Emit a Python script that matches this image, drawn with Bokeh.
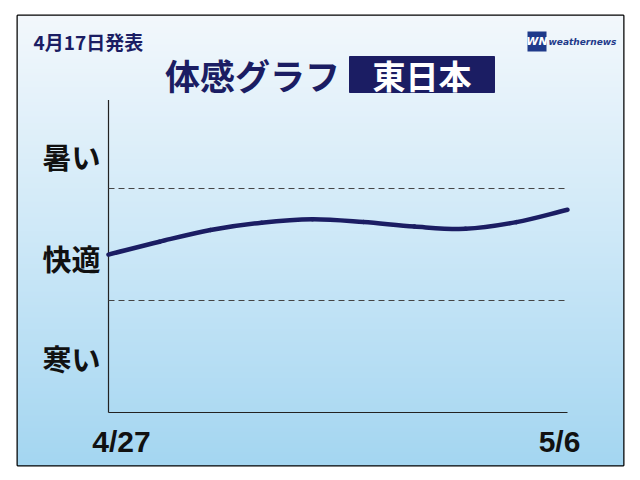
import numpy as np
from bokeh.plotting import figure
from bokeh.models import Range1d
from bokeh.core.properties import value
from bokeh.embed import file_html
from bokeh.resources import INLINE

# ---- data ----
dates = ["4/27", "4/28", "4/29", "4/30", "5/1", "5/2", "5/3", "5/4", "5/5", "5/6"]
feel = [41, 52.5, 63, 69.5, 72.5, 70, 66, 64, 70, 81]   # feel index (0 = lower comfort edge, 100 = upper)
comfort_bounds = [0, 100]
axis_extent = [-100, 179]
zone_labels = ["暑い", "快適", "寒い"]
zone_values = [129, 38, -51]
issued = "4月17日発表"
title = "体感グラフ"
region = "東日本"
tick_labels = [dates[0], dates[-1]]

days = list(range(len(dates)))

# ---- layout helpers (page pixel -> data) ----
PX0, PXD = 108.0, 51.0     # x pixel of first day, pixels per day
PY0, PYU = 300.0, 1.12     # y pixel of value 0, pixels per unit
def X(px):
    return (px - PX0) / PXD
def Y(py):
    return (PY0 - py) / PYU

FONT = value("Noto Sans CJK JP")
NAVY = "#1b1d63"

p = figure(width=632, height=472, output_backend="svg", toolbar_location=None,
           x_axis_type=None, y_axis_type=None,
           x_range=Range1d(X(17), X(623)), y_range=Range1d(Y(465), Y(15)),
           min_border_left=17, min_border_right=9, min_border_top=15, min_border_bottom=7)
p.grid.visible = False
p.border_fill_color = "white"
p.outline_line_color = "black"
p.outline_line_width = 2

# ---- background gradient ----
H = 450
stops_y = np.array([0.0, 0.52, 1.0])            # 0 = bottom, 1 = top
stops_c = np.array([[164, 214, 241], [207, 233, 248], [243, 248, 252]])
t = np.linspace(0, 1, H)
img = np.zeros((H, 2), dtype=np.uint32)
view = img.view(dtype=np.uint8).reshape((H, 2, 4))
for k in range(3):
    view[:, :, k] = np.interp(t, stops_y, stops_c[:, k])[:, None]
view[:, :, 3] = 255
x0, x1 = X(17), X(623)
y0, y1 = Y(465), Y(15)
p.image_rgba(image=[img], x=x0, y=y0, dw=x1 - x0, dh=y1 - y0)

# ---- axes lines ----
p.segment(x0=[days[0]], y0=[axis_extent[0]], x1=[days[0]], y1=[axis_extent[1]],
          line_color="#222222", line_width=1.2)
p.segment(x0=[days[0]], y0=[axis_extent[0]], x1=[days[-1]], y1=[axis_extent[0]],
          line_color="#222222", line_width=1.2)

# comfort bounds (dashed)
p.segment(x0=[days[0]] * 2, y0=comfort_bounds, x1=[days[-1]] * 2, y1=comfort_bounds,
          line_color="#444444", line_width=1, line_dash="6 4")

# ---- smooth curve through the daily values (Catmull-Rom rendered as Bezier) ----
xs = np.array(days, dtype=float)
ys = np.array(feel, dtype=float)
xp = np.concatenate([[2 * xs[0] - xs[1]], xs, [2 * xs[-1] - xs[-2]]])
yp = np.concatenate([[2 * ys[0] - ys[1]], ys, [2 * ys[-1] - ys[-2]]])
n = len(xs) - 1
bx0, by0 = xp[1:n + 1], yp[1:n + 1]
bx1, by1 = xp[2:n + 2], yp[2:n + 2]
cx0 = bx0 + (xp[2:n + 2] - xp[0:n]) / 6
cy0 = by0 + (yp[2:n + 2] - yp[0:n]) / 6
cx1 = bx1 - (xp[3:n + 3] - xp[1:n + 1]) / 6
cy1 = by1 - (yp[3:n + 3] - yp[1:n + 1]) / 6
p.bezier(x0=bx0, y0=by0, x1=bx1, y1=by1, cx0=cx0, cy0=cy0, cx1=cx1, cy1=cy1,
         line_color=NAVY, line_width=4.5, line_cap="round")

# ---- zone labels ----
p.text(x=[X(71)] * 3, y=zone_values, text=zone_labels, text_font=FONT,
       text_font_size="29px", text_font_style="bold", text_color="#111111",
       text_align="center", text_baseline="middle")

# ---- date labels ----
p.text(x=[days[0] + X(121) - X(108), days[-1] + X(559) - X(567)],
       y=[Y(441)] * 2, text=tick_labels, text_font=value("Liberation Sans"),
       text_font_size="30px", text_font_style="bold", text_color="#111111",
       text_align="center", text_baseline="middle")

# ---- header ----
p.text(x=[X(33)], y=[Y(41)], text=[issued], text_font=FONT, text_font_size="19px",
       text_font_style="bold", text_color=NAVY, text_align="left", text_baseline="middle")

p.text(x=[X(252)], y=[Y(74)], text=[title], text_font=FONT, text_font_size="35px",
       text_font_style="bold", text_color=NAVY, text_align="center", text_baseline="middle")

p.quad(left=[X(349)], right=[X(494)], top=[Y(56)], bottom=[Y(92)],
       fill_color=NAVY, line_color=NAVY)
p.text(x=[X(421.5)], y=[Y(74)], text=[region], text_font=FONT, text_font_size="33px",
       text_font_style="bold", text_color="white", text_align="center", text_baseline="middle")

# ---- logo ----
p.quad(left=[X(527)], right=[X(546)], top=[Y(31)], bottom=[Y(51)],
       fill_color="#1f3a8a", line_color=None)
p.text(x=[X(536.5)], y=[Y(41)], text=["WN"], text_font=value("DejaVu Sans"),
       text_font_size="11px", text_font_style="bold italic", text_color="white",
       text_align="center", text_baseline="middle")
p.text(x=[X(548)], y=[Y(41)], text=["weathernews"], text_font=value("DejaVu Sans"),
       text_font_size="9px", text_font_style="bold italic", text_color="#1f3a8a",
       text_align="left", text_baseline="middle")

open("out.html", "w").write(file_html(p, INLINE))
